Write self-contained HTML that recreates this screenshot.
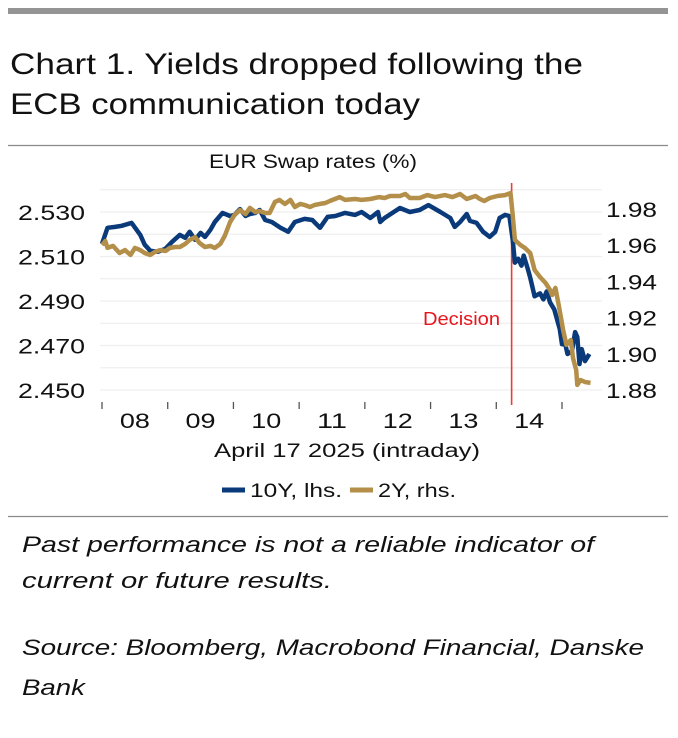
<!DOCTYPE html>
<html><head><meta charset="utf-8"><style>
html,body{margin:0;padding:0;background:#fff;}
svg{display:block;font-family:"Liberation Sans",sans-serif;}
</style></head><body>
<svg id="chart" width="678" height="738" viewBox="0 0 678 738">
<rect x="8" y="8" width="660" height="6" fill="#949494"/>
<text x="10" y="74" font-size="30" fill="#111" textLength="573" lengthAdjust="spacingAndGlyphs">Chart 1.  Yields dropped following the</text>
<text x="10" y="114" font-size="30" fill="#111" textLength="410" lengthAdjust="spacingAndGlyphs">ECB communication today</text>
<line x1="8" y1="145.5" x2="668" y2="145.5" stroke="#8a8a8a" stroke-width="1.2"/>
<text x="313" y="168" font-size="19" text-anchor="middle" fill="#111" textLength="208" lengthAdjust="spacingAndGlyphs">EUR Swap rates (%)</text>
<g id="grid"></g><g id="axes"></g><g id="plot"></g>
<text x="347" y="457" font-size="19" text-anchor="middle" fill="#111" textLength="266" lengthAdjust="spacingAndGlyphs">April 17 2025 (intraday)</text>
<g>
<line x1="222" y1="490" x2="245" y2="490" stroke="#0a3a7a" stroke-width="5"/>
<text x="250" y="497" font-size="19" fill="#111" textLength="92" lengthAdjust="spacingAndGlyphs">10Y, lhs.</text>
<line x1="350" y1="490" x2="373" y2="490" stroke="#b48f4a" stroke-width="5"/>
<text x="378" y="497" font-size="19" fill="#111" textLength="78" lengthAdjust="spacingAndGlyphs">2Y, rhs.</text>
</g>
<line x1="8" y1="516.5" x2="668" y2="516.5" stroke="#8a8a8a" stroke-width="1.2"/>
<g font-size="22" font-style="italic" fill="#111">
<text x="22" y="552" textLength="572" lengthAdjust="spacingAndGlyphs">Past performance is not a reliable indicator of</text>
<text x="22" y="588" textLength="310" lengthAdjust="spacingAndGlyphs">current or future results.</text>
<text x="22" y="655" textLength="622" lengthAdjust="spacingAndGlyphs">Source: Bloomberg, Macrobond Financial, Danske</text>
<text x="22" y="695" textLength="63" lengthAdjust="spacingAndGlyphs">Bank</text>
</g>
</svg>
<script>
const hourLabels = ["08","09","10","11","12","13","14"];
const leftTicks = [2.450, 2.470, 2.490, 2.510, 2.530];
const rightTicks = [1.88, 1.90, 1.92, 1.94, 1.96, 1.98];
const gridValues = [2.45,2.46,2.47,2.48,2.49,2.50,2.51,2.52,2.53,2.54];
const decisionMinute = 374;
const t10 = [0,5,12,18,27,35,39,44,51,58,64,71,76,80,85,90,94,99,103,110,117,121,126,131,135,140,144,149,155,163,170,176,185,192,199,206,213,222,231,237,245,252,254,258,272,281,290,298,309,318,322,327,333,336,342,348,354,359,363,368,372,375,377,380,383,385,389,391,395,400,403,406,409,413,418,420,423,425,429,432,434,436,438,441,445];
const y10 = [2.5157,2.5229,2.5233,2.5238,2.5251,2.5197,2.5153,2.5126,2.5121,2.5135,2.5166,2.5197,2.5184,2.5211,2.5175,2.5206,2.5188,2.5220,2.5255,2.5296,2.5282,2.5287,2.5313,2.5282,2.5291,2.5296,2.5309,2.5264,2.5255,2.5229,2.5211,2.5255,2.5269,2.5264,2.5229,2.5278,2.5282,2.5296,2.5287,2.5300,2.5273,2.5300,2.5255,2.5273,2.5318,2.5300,2.5309,2.5331,2.5300,2.5273,2.5233,2.5255,2.5291,2.5260,2.5251,2.5211,2.5188,2.5211,2.5273,2.5287,2.5282,2.5175,2.5072,2.5090,2.5059,2.5104,2.5041,2.5005,2.4921,2.4934,2.4907,2.4943,2.4894,2.4862,2.4773,2.4706,2.4706,2.4662,2.4675,2.4760,2.4738,2.4617,2.4684,2.4630,2.4662];
const t2 = [0,3,5,10,16,21,26,30,35,39,44,48,53,58,62,67,71,76,80,85,89,94,99,103,108,112,117,121,126,131,135,140,144,149,153,158,162,167,172,176,181,185,190,194,199,204,208,217,222,231,237,245,253,258,263,272,277,281,290,297,304,313,320,327,333,341,345,349,354,361,368,373,375,377,382,386,391,395,400,405,409,411,414,417,421,424,428,430,433,434,437,441,446];
const y2 = [1.9601,1.9623,1.9585,1.9596,1.9557,1.9573,1.9546,1.9585,1.9573,1.9557,1.9546,1.9562,1.9573,1.9568,1.9585,1.9590,1.9590,1.9607,1.9629,1.9645,1.9612,1.9590,1.9596,1.9585,1.9607,1.9651,1.9728,1.9767,1.9794,1.9772,1.9806,1.9783,1.9789,1.9778,1.9778,1.9839,1.9850,1.9828,1.9850,1.9811,1.9828,1.9822,1.9811,1.9822,1.9828,1.9833,1.9844,1.9866,1.9850,1.9855,1.9850,1.9855,1.9866,1.9861,1.9872,1.9872,1.9883,1.9861,1.9861,1.9877,1.9866,1.9877,1.9866,1.9883,1.9855,1.9872,1.9855,1.9844,1.9861,1.9872,1.9877,1.9888,1.9767,1.9629,1.9601,1.9585,1.9557,1.9463,1.9424,1.9391,1.9353,1.9325,1.9364,1.9270,1.9132,1.9049,1.9076,1.8977,1.8910,1.8828,1.8855,1.8844,1.8839];

const NS = "http://www.w3.org/2000/svg";
function xS(m){ return 102 + m * (460/420); }
function yL(v){ return 212 + (2.530 - v) * 2225; }
function yR(v){ return 209 + (1.98 - v) * 1810; }
function mk(tag, attrs, parent){
  const e = document.createElementNS(NS, tag);
  for (const k in attrs) e.setAttribute(k, attrs[k]);
  parent.appendChild(e);
  return e;
}
const grid = document.getElementById('grid');
const axes = document.getElementById('axes');
const plot = document.getElementById('plot');

gridValues.forEach(v => {
  const l = mk('line', {x1:100, x2:602, y1:yL(v), y2:yL(v), stroke:'#efefef', 'stroke-width':1.2}, grid);
  
  
});
leftTicks.forEach(v => {
  const t = mk('text', {x:18, y:yL(v)+8, 'font-size':21, fill:'#111', textLength:67, lengthAdjust:'spacingAndGlyphs'}, axes);
  t.textContent = v.toFixed(3);
  
  
});
rightTicks.forEach(v => {
  const t = mk('text', {x:606, y:yR(v)+8, 'font-size':21, fill:'#111', textLength:51, lengthAdjust:'spacingAndGlyphs'}, axes);
  t.textContent = v.toFixed(2);
  
  
});
for (let i = 0; i <= hourLabels.length; i++) {
  const x = xS(i*60);
  const tk = mk('line', {x1:x, x2:x, y1:402, y2:409, stroke:'#555', 'stroke-width':1.3}, axes);
  
  
}
hourLabels.forEach((h, i) => {
  const t = mk('text', {x:xS(i*60+30)-15, y:428, 'font-size':21, fill:'#111', textLength:30, lengthAdjust:'spacingAndGlyphs'}, axes);
  t.textContent = h;
  
  
});
const dx = xS(decisionMinute);
const dl = mk('line', {x1:dx, x2:dx, y1:183, y2:405, stroke:'#f03a3a', 'stroke-width':1.6}, plot);


const dt = mk('text', {x:423, y:325, 'font-size':18, fill:'#e8141c', textLength:77, lengthAdjust:'spacingAndGlyphs'}, plot);
dt.textContent = 'Decision';



function path(ts, vs, yf){ return ts.map((t,i)=>(i?'L':'M')+xS(t).toFixed(1)+','+yf(vs[i]).toFixed(1)).join(''); }
const p10 = mk('path', {d:path(t10,y10,yL), fill:'none', stroke:'#0a3a7a', 'stroke-width':4.5, 'stroke-linejoin':'round'}, plot);


const p2 = mk('path', {d:path(t2,y2,yR), fill:'none', stroke:'#b48f4a', 'stroke-width':4.5, 'stroke-linejoin':'round'}, plot);


</script>
</body></html>
